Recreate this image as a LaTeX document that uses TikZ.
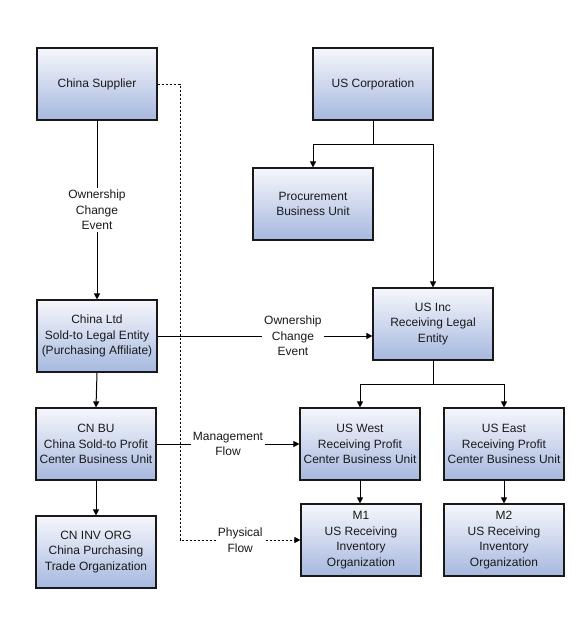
\documentclass[tikz,border=0pt]{standalone}
\usepackage{fontspec}
\setmainfont{Liberation Sans}
\usetikzlibrary{arrows.meta,shadows,calc}
\definecolor{boxtop}{HTML}{F6F7FC}
\definecolor{boxbot}{HTML}{A6B8DF}
\definecolor{txt}{HTML}{1A1A1A}
\begin{document}
\begin{tikzpicture}[x=1pt,y=-1pt,
  box/.style={draw=black!90, line width=1.2pt, top color=boxtop, bottom color=boxbot,
    minimum width=120pt, minimum height=72pt, inner sep=2pt, align=center,
    text=txt, font=\fontsize{12}{15.5}\selectfont,
    drop shadow={shadow xshift=1.2pt, shadow yshift=-1.2pt, opacity=0.3, fill=black}},
  lbl/.style={fill=white, inner sep=2pt, align=center, text=txt, font=\fontsize{12}{15.5}\selectfont},
  conn/.style={line width=1pt, draw=black, -{Triangle[length=6pt,width=6pt]}},
  dconn/.style={conn, dashed, dash pattern=on 2.5pt off 1.5pt}]
\useasboundingbox (0,0) rectangle (576,624);
\node[box] (supplier) at (97,84) {China Supplier};
\node[box] (uscorp) at (373,84) {US Corporation};
\node[box] (proc) at (313,204) {Procurement\\Business Unit};
\node[box] (usinc) at (433,324) {US Inc\\Receiving Legal\\Entity};
\node[box] (chinaltd) at (97,336) {China Ltd\\Sold-to Legal Entity\\(Purchasing Affiliate)};
\node[box] (cnbu) at (96,444) {CN BU\\China Sold-to Profit\\Center Business Unit};
\node[box] (cninv) at (96,552) {CN INV ORG\\China Purchasing\\Trade Organization};
\node[box] (uswest) at (360,444) {US West\\Receiving Profit\\Center Business Unit};
\node[box] (useast) at (504,444) {US East\\Receiving Profit\\Center Business Unit};
\node[box] (m1) at (361,540) {M1\\US Receiving\\Inventory\\Organization};
\node[box] (m2) at (504,540) {M2\\US Receiving\\Inventory\\Organization};

\coordinate (b1) at (373,144);
\coordinate (b2) at (433,384);
\coordinate (d1) at (180,84);
\coordinate (d2) at (180,540);

% dashed physical flow
\draw[dconn] (supplier.east |- d1) -- (d1) -- (d2) -- node[lbl]{Physical\\Flow} (m1.west |- d2);

% ownership from supplier to China Ltd
\draw[conn] (supplier.south) -- node[lbl]{Ownership\\Change\\Event} (chinaltd.north);
% US corporation branches
\draw[conn] (uscorp.south) -- (b1) -| (proc.north);
\draw[conn] (b1) -| (usinc.north);
% ownership China Ltd -> US Inc
\draw[conn] (chinaltd.east) -- node[lbl, pos=0.63]{Ownership\\Change\\Event} (chinaltd.east -| usinc.west);
% US Inc branches
\draw[conn] (usinc.south) -- (b2) -| (uswest.north);
\draw[conn] (b2) -| (useast.north);
% management flow
\draw[conn] (cnbu.east) -- node[lbl]{Management\\Flow} (cnbu.east -| uswest.west);
% verticals
\draw[conn] (chinaltd.south) -- (cnbu.north);
\draw[conn] (cnbu.south) -- (cninv.north);
\draw[conn] (uswest.south) -- (uswest.south |- m1.north);
\draw[conn] (useast.south) -- (m2.north);
\end{tikzpicture}
\end{document}
